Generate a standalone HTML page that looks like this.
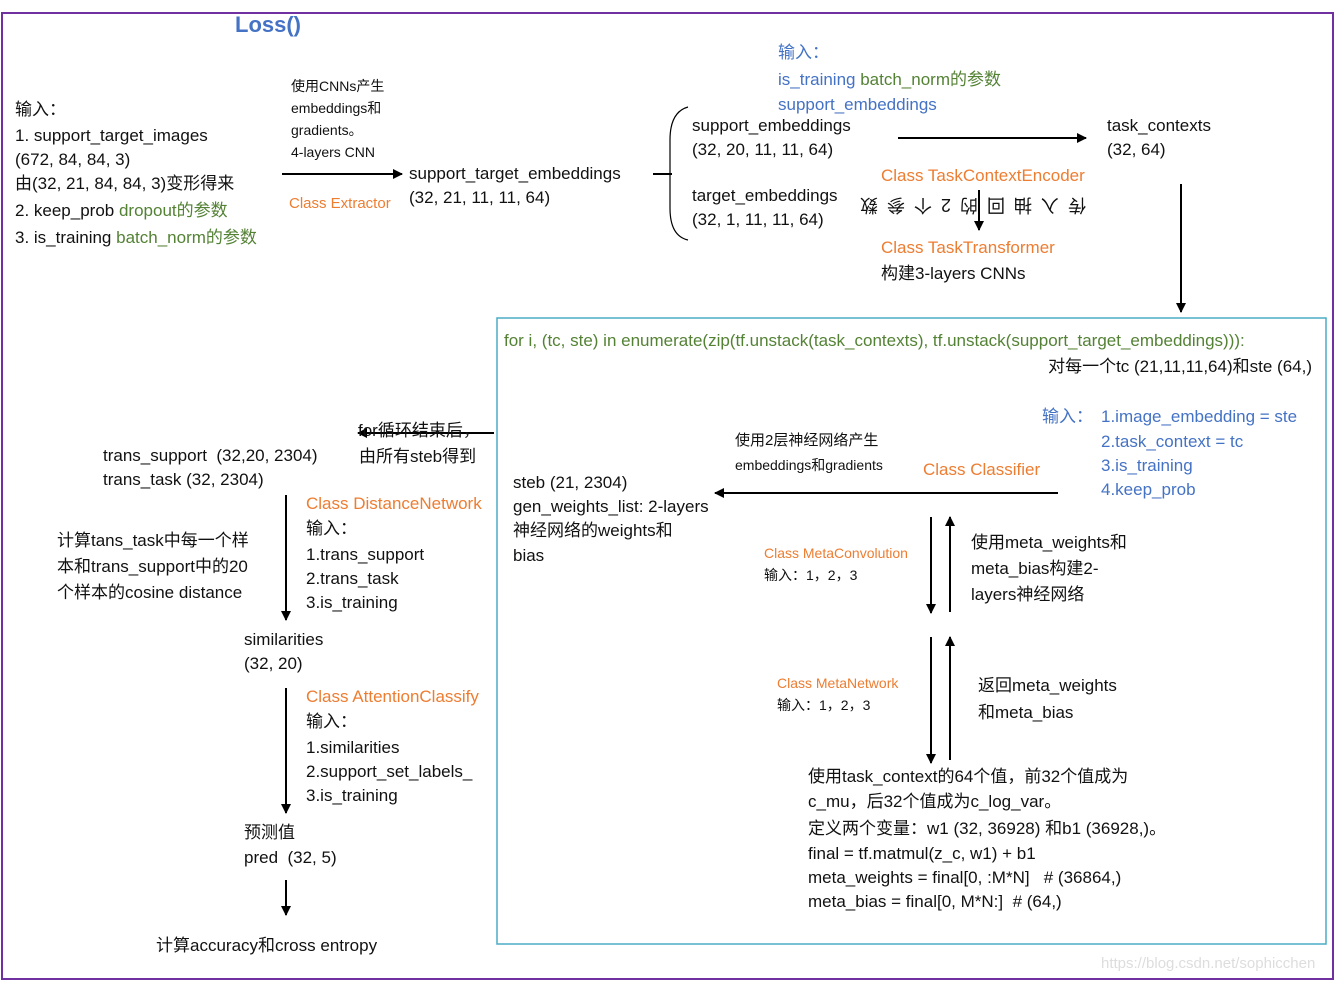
<!DOCTYPE html>
<html><head><meta charset="utf-8">
<style>
body{margin:0;background:#fff;}
#c{position:relative;width:1336px;height:981px;overflow:hidden;font-family:"Liberation Sans","Noto Sans CJK SC",sans-serif;color:#111;}
.t{position:absolute;white-space:nowrap;font-size:17px;line-height:22px;}
.s{font-size:14px;}
.o{color:#ED7D31;}
.g{color:#548235;}
.b{color:#4472C4;}
svg{position:absolute;left:0;top:0;}
</style></head><body><div id="c">
<svg width="1336" height="981">
<defs><marker id="a" markerWidth="10" markerHeight="10" refX="9" refY="5" orient="auto" markerUnits="userSpaceOnUse"><path d="M0,0 L10,5 L0,10 z" fill="#000"/></marker></defs>
<rect x="2" y="13" width="1331" height="966" fill="none" stroke="#7030A0" stroke-width="2"/>
<rect x="497" y="318" width="829" height="626" fill="none" stroke="#4BACC6" stroke-width="1.5"/>
<g stroke="#000" stroke-width="2" fill="none">
<line x1="282" y1="174" x2="402" y2="174" marker-end="url(#a)"/>
<line x1="653" y1="174" x2="672" y2="174"/>
<path d="M688,107 Q670,112 670,140 L670,208 Q670,236 688,240" stroke-width="1.2"/>
<line x1="898" y1="138" x2="1086" y2="138" marker-end="url(#a)"/>
<line x1="979" y1="190" x2="979" y2="230" marker-end="url(#a)"/>
<line x1="1181" y1="184" x2="1181" y2="312" marker-end="url(#a)"/>
<line x1="1058" y1="493" x2="715" y2="493" marker-end="url(#a)"/>
<line x1="931" y1="517" x2="931" y2="613" marker-end="url(#a)"/>
<line x1="950" y1="612" x2="950" y2="517" marker-end="url(#a)"/>
<line x1="931" y1="637" x2="931" y2="763" marker-end="url(#a)"/>
<line x1="950" y1="760" x2="950" y2="637" marker-end="url(#a)"/>
<line x1="494" y1="433" x2="358" y2="433" marker-end="url(#a)"/>
<line x1="286" y1="495" x2="286" y2="620" marker-end="url(#a)"/>
<line x1="286" y1="688" x2="286" y2="813" marker-end="url(#a)"/>
<line x1="286" y1="880" x2="286" y2="915" marker-end="url(#a)"/>
</g>
</svg>
<div class="t b" style="left:235px;top:11px;font-size:22px;font-weight:bold;line-height:28px;">Loss()</div>
<div class="t" style="left:15px;top:99px;">输入：</div>
<div class="t" style="left:15px;top:125px;">1. support_target_images</div>
<div class="t" style="left:15px;top:149px;">(672, 84, 84, 3)</div>
<div class="t" style="left:15px;top:173px;">由(32, 21, 84, 84, 3)变形得来</div>
<div class="t" style="left:15px;top:200px;">2. keep_prob <span class="g">dropout的参数</span></div>
<div class="t" style="left:15px;top:227px;">3. is_training <span class="g">batch_norm的参数</span></div>
<div class="t s" style="left:291px;top:75px;">使用CNNs产生</div>
<div class="t s" style="left:291px;top:97px;">embeddings和</div>
<div class="t s" style="left:291px;top:119px;">gradients。</div>
<div class="t s" style="left:291px;top:141px;">4-layers CNN</div>
<div class="t o" style="left:289px;top:193px;font-size:15px;">Class Extractor</div>
<div class="t" style="left:409px;top:163px;">support_target_embeddings</div>
<div class="t" style="left:409px;top:187px;">(32, 21, 11, 11, 64)</div>
<div class="t b" style="left:778px;top:42px;">输入：</div>
<div class="t" style="left:778px;top:69px;"><span class="b">is_training </span><span class="g">batch_norm的参数</span></div>
<div class="t b" style="left:778px;top:94px;">support_embeddings</div>
<div class="t" style="left:692px;top:115px;">support_embeddings</div>
<div class="t" style="left:692px;top:139px;">(32, 20, 11, 11, 64)</div>
<div class="t" style="left:692px;top:185px;">target_embeddings</div>
<div class="t" style="left:692px;top:209px;">(32, 1, 11, 11, 64)</div>
<div class="t" style="left:1107px;top:115px;">task_contexts</div>
<div class="t" style="left:1107px;top:139px;">(32, 64)</div>
<div class="t o" style="left:881px;top:165px;">Class TaskContextEncoder</div>
<div class="t" style="left:872px;top:194px;width:214px;letter-spacing:9px;transform:rotate(180deg);font-size:18px;">传入抽回的2个参数</div>
<div class="t o" style="left:881px;top:237px;">Class TaskTransformer</div>
<div class="t" style="left:881px;top:263px;">构建3-layers CNNs</div>
<div class="t g" style="left:504px;top:330px;">for i, (tc, ste) in enumerate(zip(tf.unstack(task_contexts), tf.unstack(support_target_embeddings))):</div>
<div class="t" style="right:24px;top:356px;">对每一个tc (21,11,11,64)和ste (64,)</div>
<div class="t b" style="left:1042px;top:406px;">输入：</div>
<div class="t b" style="left:1101px;top:406px;">1.image_embedding = ste</div>
<div class="t b" style="left:1101px;top:431px;">2.task_context = tc</div>
<div class="t b" style="left:1101px;top:455px;">3.is_training</div>
<div class="t b" style="left:1101px;top:479px;">4.keep_prob</div>
<div class="t" style="left:735px;top:430px;font-size:15px;">使用2层神经网络产生</div>
<div class="t s" style="left:735px;top:454px;">embeddings和gradients</div>
<div class="t o" style="left:923px;top:459px;">Class Classifier</div>
<div class="t" style="left:513px;top:472px;">steb (21, 2304)</div>
<div class="t" style="left:513px;top:496px;">gen_weights_list: 2-layers</div>
<div class="t" style="left:513px;top:520px;">神经网络的weights和</div>
<div class="t" style="left:513px;top:545px;">bias</div>
<div class="t o s" style="left:764px;top:542px;">Class MetaConvolution</div>
<div class="t s" style="left:764px;top:564px;">输入：1，2，3</div>
<div class="t" style="left:971px;top:532px;">使用meta_weights和</div>
<div class="t" style="left:971px;top:558px;">meta_bias构建2-</div>
<div class="t" style="left:971px;top:584px;">layers神经网络</div>
<div class="t o s" style="left:777px;top:672px;">Class MetaNetwork</div>
<div class="t s" style="left:777px;top:694px;">输入：1，2，3</div>
<div class="t" style="left:978px;top:675px;">返回meta_weights</div>
<div class="t" style="left:978px;top:702px;">和meta_bias</div>
<div class="t" style="left:808px;top:766px;">使用task_context的64个值，前32个值成为</div>
<div class="t" style="left:808px;top:791px;">c_mu，后32个值成为c_log_var。</div>
<div class="t" style="left:808px;top:818px;">定义两个变量：w1 (32, 36928) 和b1 (36928,)。</div>
<div class="t" style="left:808px;top:843px;">final = tf.matmul(z_c, w1) + b1</div>
<div class="t" style="left:808px;top:867px;">meta_weights = final[0, :M*N]&nbsp;&nbsp;&nbsp;# (36864,)</div>
<div class="t" style="left:808px;top:891px;">meta_bias = final[0, M*N:]&nbsp;&nbsp;# (64,)</div>
<div class="t" style="left:358px;top:420px;">for循环结束后，</div>
<div class="t" style="left:359px;top:446px;">由所有steb得到</div>
<div class="t" style="left:103px;top:445px;">trans_support&nbsp;&nbsp;(32,20, 2304)</div>
<div class="t" style="left:103px;top:469px;">trans_task (32, 2304)</div>
<div class="t o" style="left:306px;top:493px;">Class DistanceNetwork</div>
<div class="t" style="left:306px;top:518px;">输入：</div>
<div class="t" style="left:306px;top:544px;">1.trans_support</div>
<div class="t" style="left:306px;top:568px;">2.trans_task</div>
<div class="t" style="left:306px;top:592px;">3.is_training</div>
<div class="t" style="left:57px;top:530px;">计算tans_task中每一个样</div>
<div class="t" style="left:57px;top:556px;">本和trans_support中的20</div>
<div class="t" style="left:57px;top:582px;">个样本的cosine distance</div>
<div class="t" style="left:244px;top:629px;">similarities</div>
<div class="t" style="left:244px;top:653px;">(32, 20)</div>
<div class="t o" style="left:306px;top:686px;">Class AttentionClassify</div>
<div class="t" style="left:306px;top:711px;">输入：</div>
<div class="t" style="left:306px;top:737px;">1.similarities</div>
<div class="t" style="left:306px;top:761px;">2.support_set_labels_</div>
<div class="t" style="left:306px;top:785px;">3.is_training</div>
<div class="t" style="left:244px;top:822px;">预测值</div>
<div class="t" style="left:244px;top:847px;">pred&nbsp;&nbsp;(32, 5)</div>
<div class="t" style="left:156px;top:935px;">计算accuracy和cross entropy</div>
<div class="t" style="left:1101px;top:953px;font-size:15px;color:#ddd;">https://blog.csdn.net/sophicchen</div>
</div></body></html>
